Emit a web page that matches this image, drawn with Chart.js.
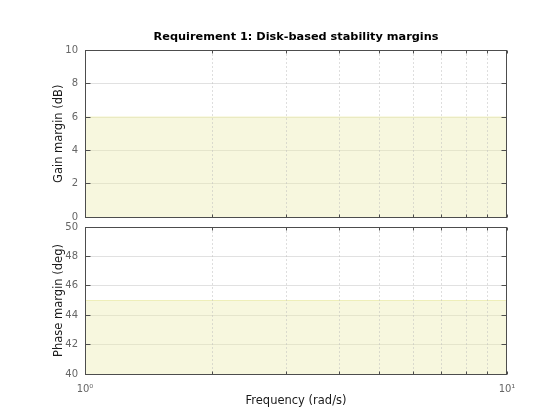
<!DOCTYPE html>
<html>
<head>
<meta charset="utf-8">
<script src="https://cdn.jsdelivr.net/npm/chart.js@4.4.1/dist/chart.umd.min.js"></script>
<style>
  body { margin: 0; background: #fff; }
  #wrap { position: relative; width: 560px; height: 420px; }
  canvas { position: absolute; left: 0; }
</style>
</head>
<body>
<div id="wrap">
  <canvas id="gainChart" width="560" height="230" style="top:0px"></canvas>
  <canvas id="phaseChart" width="560" height="206" style="top:214px"></canvas>
</div>
<script>
// frequency range (rad/s) and requirement bounds
var freq = [1, 10];
var gainBound = [6, 6];      // dB
var phaseBound = [45, 45];   // deg
var gainRange = [0, 10];
var phaseRange = [40, 50];
var xTickLabels = { 1: "10\u2070", 10: "10\u00b9" };

var FONT = "'DejaVu Sans', sans-serif";
var fillColor = "rgba(235,235,172,0.4)";
var edgeColor = "rgb(238,238,185)";

function px(v) { return Math.floor(v) + 0.5; }

// dotted minor grid, axes box and inward tick marks, matlab style
var boxPlugin = {
  id: "box",
  afterDatasetsDraw: function (chart) {
    var ctx = chart.ctx, a = chart.chartArea;
    var x = chart.scales.x, y = chart.scales.y;
    var l = px(a.left), r = px(a.right) - 1, t = px(a.top), b = px(a.bottom);
    ctx.save();
    ctx.lineWidth = 1;

    ctx.strokeStyle = "#bdbdbd";
    ctx.setLineDash([1, 3]);
    ctx.beginPath();
    x.ticks.forEach(function (tk) {
      if (tk.value === freq[0] || tk.value === freq[1]) return;
      var xx = px(x.getPixelForValue(tk.value));
      ctx.moveTo(xx, t); ctx.lineTo(xx, b);
    });
    ctx.stroke();
    ctx.setLineDash([]);

    ctx.strokeStyle = "#4d4d4d";
    ctx.beginPath();
    y.ticks.forEach(function (tk) {
      var yy = px(y.getPixelForValue(tk.value));
      ctx.moveTo(l, yy); ctx.lineTo(l + 5, yy);
      ctx.moveTo(r, yy); ctx.lineTo(r - 5, yy);
    });
    x.ticks.forEach(function (tk) {
      var xx = px(x.getPixelForValue(tk.value));
      ctx.moveTo(xx, b); ctx.lineTo(xx, b - 3);
      ctx.moveTo(xx, t); ctx.lineTo(xx, t + 3);
    });
    ctx.stroke();
    ctx.strokeRect(l, t, r - l, b - t);
    ctx.restore();
  }
};

function xScale(bottom) {
  return {
    type: "logarithmic",
    min: freq[0],
    max: freq[1],
    afterBuildTicks: function (s) {
      var t = [];
      for (var v = 1; v <= 10; v++) t.push({ value: v });
      s.ticks = t;
    },
    afterFit: function (s) { s.height = bottom ? 46 : 0; },
    border: { display: false },
    grid: { display: false },
    ticks: {
      display: bottom,
      autoSkip: false,
      maxRotation: 0,
      padding: 1,
      color: "#666",
      font: { family: FONT, size: 10 },
      callback: function (v) { return xTickLabels[v] || ""; }
    },
    title: {
      display: bottom,
      text: "Frequency (rad/s)",
      color: "#1a1a1a",
      font: { family: FONT, size: 11.5 },
      padding: { top: 0, bottom: 12 }
    }
  };
}

function yScale(range, label) {
  return {
    min: range[0],
    max: range[1],
    afterFit: function (s) { s.width = 40; },
    border: { display: false },
    grid: { drawTicks: false, color: "#e1e1e1", lineWidth: 1 },
    ticks: {
      stepSize: 2,
      padding: 7,
      color: "#666",
      font: { family: FONT, size: 10 }
    },
    title: {
      display: true,
      text: label,
      color: "#1a1a1a",
      font: { family: FONT, size: 11.5 },
      padding: { top: 7, bottom: 0 }
    }
  };
}

function boundData(vals) {
  return freq.map(function (f, i) { return { x: f, y: vals[i] }; });
}

function makeChart(id, bound, range, label, bottom) {
  return new Chart(document.getElementById(id).getContext("2d"), {
    type: "line",
    data: {
      datasets: [{
        data: boundData(bound),
        fill: "start",
        backgroundColor: fillColor,
        borderColor: edgeColor,
        borderWidth: 1,
        pointRadius: 0,
        tension: 0
      }]
    },
    options: {
      responsive: false,
      animation: false,
      layout: { padding: { left: 45, right: 53, top: 0, bottom: 0 } },
      plugins: {
        legend: { display: false },
        tooltip: { enabled: false },
        title: {
          display: !bottom,
          fullSize: false,
          text: "Requirement 1: Disk-based stability margins",
          color: "#000",
          font: { family: FONT, size: 11.3, weight: "bold" },
          padding: { top: 30, bottom: 7 }
        }
      },
      scales: {
        x: xScale(bottom),
        y: yScale(range, label)
      }
    },
    plugins: [boxPlugin]
  });
}

makeChart("gainChart", gainBound, gainRange, "Gain margin (dB)", false);
makeChart("phaseChart", phaseBound, phaseRange, "Phase margin (deg)", true);
</script>
</body>
</html>
